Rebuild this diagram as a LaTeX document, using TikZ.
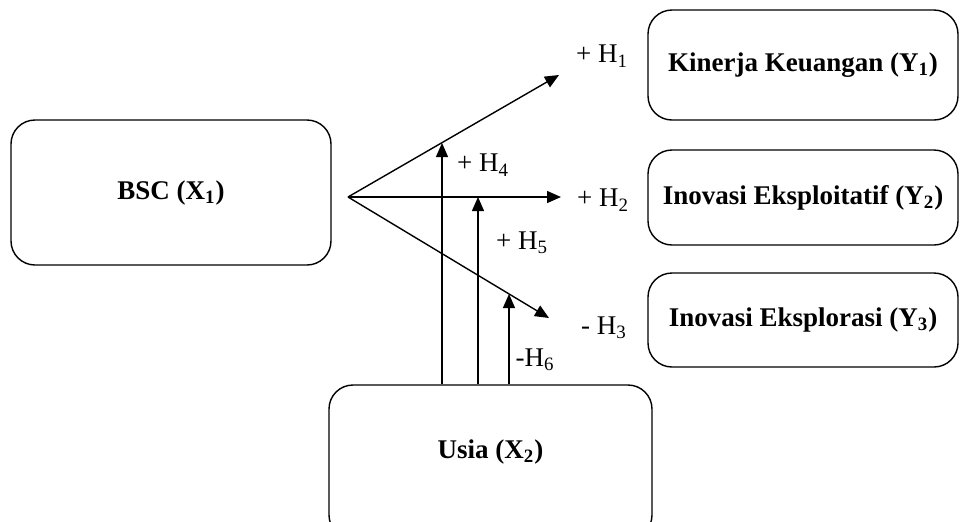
\documentclass[tikz,border=0pt]{standalone}
\usepackage{fontspec}
\setmainfont{Liberation Serif}
\usetikzlibrary{positioning,arrows.meta}

\begin{document}
\begin{tikzpicture}[x=0.5pt,y=-0.5pt,->,>={Triangle[length=7pt,width=6pt]},line width=0.7pt,
  box/.style={draw,-,rounded corners=12pt,font=\fontsize{13.5}{16}\selectfont\bfseries},
  hyp/.style={font=\fontsize{13.5}{16}\selectfont}]
  \useasboundingbox (0,0) rectangle (960,521);
  \clip (0,0) rectangle (960,521);
  % variables
  \node[box,minimum width=160pt,minimum height=72.5pt] (bsc) at (171,192.5) {BSC (X\textsubscript{1})};
  \node[box,minimum width=155pt,minimum height=55pt] (kin) at (803,65) {Kinerja Keuangan (Y\textsubscript{1})};
  \node[box,minimum width=155pt,minimum height=47.5pt] (eksploit) at (803,197.5) {Inovasi Eksploitatif (Y\textsubscript{2})};
  \node[box,minimum width=155pt,minimum height=47pt] (eksplor) at (803,320) {Inovasi Eksplorasi (Y\textsubscript{3})};
  \node[box,minimum width=161.5pt,minimum height=77pt] (usia) at (490.5,462) {};
  \node[font=\fontsize{13.5}{16}\selectfont\bfseries] (usiatxt) at (490.5,452) {Usia (X\textsubscript{2})};
  % direct paths
  \coordinate (split) at (348,197);
  \coordinate (e1) at (559,75);
  \coordinate (e2) at (561,197);
  \coordinate (e3) at (549,318);
  \draw (split) -- (e1);
  \draw (split) -- (e2);
  \draw (split) -- (e3);
  % moderating paths
  \coordinate (t4) at (442,143);
  \coordinate (t5) at (478,197);
  \coordinate (t6) at (509,294);
  \draw (t4 |- usia.north) -- (t4);
  \draw (t5 |- usia.north) -- (t5);
  \draw (t6 |- usia.north) -- (t6);
  % hypotheses
  \node[hyp] (h1) at (602,56) {+ H\textsubscript{1}};
  \node[hyp] (h2) at (603,200) {+ H\textsubscript{2}};
  \node[hyp] (h3) at (604,328) {- H\textsubscript{3}};
  \node[hyp] (h4) at (483,165) {+ H\textsubscript{4}};
  \node[hyp] (h5) at (522,243) {+ H\textsubscript{5}};
  \node[hyp] (h6) at (535,360) {-H\textsubscript{6}};
\end{tikzpicture}
\end{document}
